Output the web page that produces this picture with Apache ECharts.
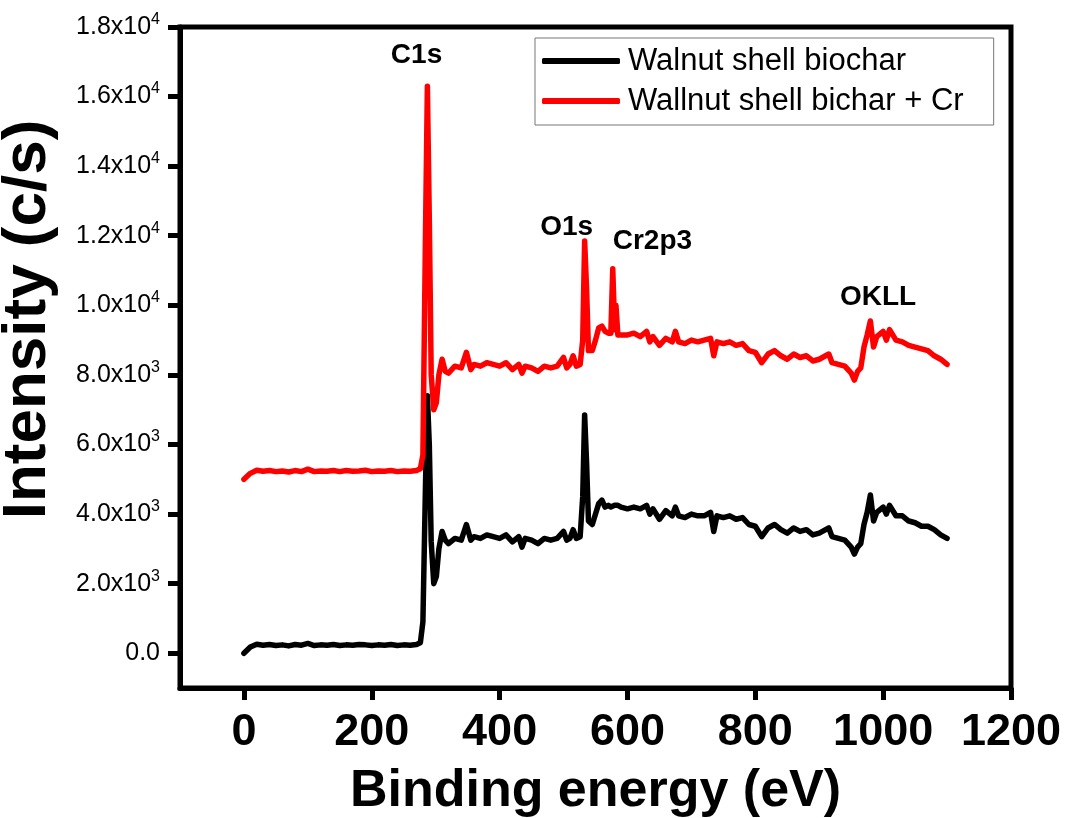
<!DOCTYPE html>
<html>
<head>
<meta charset="utf-8">
<title>XPS survey</title>
<script src="https://cdn.jsdelivr.net/npm/echarts@6/dist/echarts.min.js"></script>
<style>
  html, body { margin: 0; padding: 0; background: #fff; }
  #chart { width: 1070px; height: 818px; }
</style>
</head>
<body>
<div id="chart"></div>
<script>
// binding energy (eV), shared by both spectra
var energy = [0, 10, 20, 30, 40, 50, 60, 70, 80, 90, 100, 110, 120, 130, 140, 150, 160, 170, 180, 190,
  200, 210, 220, 230, 240, 250, 260, 270, 276, 280, 284, 287, 290, 293, 297, 301, 305, 310, 315, 320,
  330, 340, 348, 355, 360, 370, 380, 390, 400, 410, 420, 430, 435, 440, 450, 460, 470, 480, 490, 500,
  505, 510, 515, 520, 526, 530, 533, 536, 539, 545, 550, 555, 560, 565, 570, 574, 577, 580, 582, 585,
  590, 600, 610, 620, 630, 635, 640, 650, 660, 670, 675, 680, 690, 700, 710, 720, 730, 735, 740, 750,
  760, 770, 780, 790, 800, 810, 820, 830, 840, 850, 860, 870, 880, 890, 900, 910, 915, 920, 930, 940,
  945, 950, 955, 960, 965, 970, 975, 980, 985, 990, 1000, 1005, 1010, 1020, 1030, 1040, 1050, 1060, 1070, 1080,
  1090, 1100];

var biochar = [0, 180, 260, 230, 250, 220, 240, 210, 250, 230, 280, 220, 240, 230, 250, 220, 240, 230, 250, 240,
  220, 240, 230, 250, 220, 240, 230, 250, 300, 900, 4800, 7400, 6000, 3200, 2000, 2200, 3000, 3500, 3250, 3150,
  3300, 3250, 3700, 3250, 3350, 3300, 3400, 3350, 3300, 3400, 3200, 3350, 3050, 3300, 3250, 3150, 3300, 3250, 3300, 3500,
  3250, 3300, 3550, 3300, 3350, 4500, 6850, 5500, 3800, 3700, 4000, 4300, 4400, 4200, 4250, 4200, 4150, 4250, 4200, 4250,
  4200, 4150, 4200, 4150, 4250, 4000, 4150, 3850, 4100, 3950, 4200, 3950, 3900, 4000, 3950, 3950, 4050, 3500, 3950, 3900,
  3950, 3850, 3900, 3700, 3650, 3350, 3600, 3700, 3550, 3450, 3600, 3500, 3550, 3400, 3450, 3550, 3600, 3350, 3300, 3250,
  3150, 3050, 2850, 3050, 3150, 3700, 4050, 4550, 3800, 4050, 4200, 4000, 4250, 3950, 3950, 3800, 3750, 3650, 3650, 3550,
  3400, 3300];

var biocharCr = [5000, 5170, 5260, 5230, 5250, 5220, 5240, 5210, 5250, 5220, 5290, 5220, 5240, 5230, 5250, 5220, 5250, 5230, 5240, 5260,
  5220, 5240, 5230, 5250, 5220, 5240, 5230, 5250, 5300, 5700, 12000, 16300, 12500, 8000, 7000, 7200, 8000, 8450, 8100, 8050,
  8250, 8200, 8650, 8150, 8300, 8250, 8350, 8300, 8250, 8350, 8150, 8300, 8050, 8250, 8200, 8100, 8250, 8200, 8250, 8500,
  8200, 8300, 8550, 8250, 8300, 9000, 11850, 10500, 8700, 8700, 9000, 9350, 9400, 9250, 9200, 9200, 11050, 9300, 10000, 9150,
  9150, 9150, 9200, 9100, 9250, 8950, 9100, 8850, 9050, 8950, 9250, 8950, 8900, 9000, 8950, 9000, 9050, 8550, 8950, 8900,
  8950, 8850, 8900, 8700, 8650, 8350, 8600, 8700, 8550, 8450, 8600, 8500, 8550, 8400, 8450, 8550, 8600, 8350, 8300, 8250,
  8150, 8050, 7850, 8100, 8200, 8800, 9150, 9550, 8800, 9100, 9250, 9000, 9300, 9000, 8950, 8850, 8800, 8750, 8700, 8550,
  8450, 8300];

var seriesNames = ['Walnut shell biochar', 'Wallnut shell bichar + Cr'];

// peak labels
var peakNames = ['C1s', 'O1s', 'Cr2p3', 'OKLL'];
var peakX = [270, 505, 639, 992];
var peakY = [17200, 12230, 11830, 10220];

var xTicks = [0, 200, 400, 600, 800, 1000, 1200];
var yTicks = [0, 2000, 4000, 6000, 8000, 10000, 12000, 14000, 16000, 18000];

function pairs(xs, ys) {
  return xs.map(function (x, i) { return [x, ys[i]]; });
}

function sciLabel(v) {
  if (v === 0) return '{m|0.0}';
  var e = Math.floor(Math.log10(v));
  var m = (v / Math.pow(10, e)).toFixed(1);
  return '{m|' + m + 'x10}{e|' + e + '}';
}

var chart = echarts.init(document.getElementById('chart'));
var font = 'Liberation Sans, Arial, sans-serif';

chart.setOption({
  animation: false,
  backgroundColor: '#fff',
  textStyle: { fontFamily: font },
  grid: {
    left: 180, right: 59, top: 27, bottom: 130,
    show: true, borderColor: '#000', borderWidth: 5,
    outerBoundsMode: 'none'
  },
  legend: {
    data: seriesNames,
    orient: 'vertical',
    left: 535, top: 38,
    icon: 'roundRect',
    itemWidth: 78, itemHeight: 6,
    itemGap: 6,
    padding: [6, 30, 7, 7],
    borderColor: '#777', borderWidth: 1,
    backgroundColor: '#fff',
    textStyle: { fontSize: 31, color: '#000', lineHeight: 34, fontFamily: font, padding: [0, 0, 0, 3] }
  },
  xAxis: {
    type: 'value',
    min: -100, max: 1200,
    name: 'Binding energy (eV)',
    nameLocation: 'middle',
    nameGap: 78,
    nameTextStyle: { fontSize: 52, fontWeight: 'bold', color: '#000', fontFamily: font },
    axisLine: { show: true, onZero: false, lineStyle: { color: '#000', width: 5 } },
    axisTick: { show: true, length: 12, lineStyle: { color: '#000', width: 5 }, customValues: xTicks },
    axisLabel: {
      fontSize: 45, fontWeight: 'bold', color: '#000', margin: 22, customValues: xTicks,
      formatter: function (v) { return String(v); }
    },
    splitLine: { show: false }
  },
  yAxis: {
    type: 'value',
    min: -1000, max: 18000,
    name: 'Intensity (c/s)',
    nameLocation: 'middle',
    nameGap: 121,
    nameTextStyle: { fontSize: 62, fontWeight: 'bold', color: '#000', fontFamily: font, padding: [0, 0, 0, 76] },
    axisLine: { show: true, onZero: false, lineStyle: { color: '#000', width: 5 } },
    axisTick: { show: true, length: 12, lineStyle: { color: '#000', width: 5 }, customValues: yTicks },
    axisLabel: {
      margin: 20,
      customValues: yTicks,
      formatter: sciLabel,
      rich: {
        m: { fontSize: 25, color: '#000', fontFamily: font, lineHeight: 28 },
        e: { fontSize: 16, color: '#000', fontFamily: font, lineHeight: 28, padding: [0, 0, 15, 0] }
      }
    },
    splitLine: { show: false }
  },
  series: [
    {
      name: seriesNames[0],
      type: 'line',
      data: pairs(energy, biochar),
      showSymbol: false,
      color: '#000',
      lineStyle: { color: '#000', width: 5.5, join: 'round', cap: 'round' },
      z: 2
    },
    {
      name: seriesNames[1],
      type: 'line',
      data: pairs(energy, biocharCr),
      showSymbol: false,
      color: '#ff0000',
      lineStyle: { color: '#ff0000', width: 5.5, join: 'round', cap: 'round' },
      z: 3
    },
    {
      name: 'peaks',
      type: 'scatter',
      symbolSize: 0,
      itemStyle: { opacity: 1 },
      data: peakNames.map(function (n, i) { return { value: [peakX[i], peakY[i]], name: n }; }),
      label: {
        show: true, position: 'top', distance: 0, offset: [0, 14],
        formatter: function (p) { return p.name; },
        fontSize: 28, fontWeight: 'bold', color: '#000', opacity: 1, fontFamily: font,
        textBorderWidth: 0
      },
      emphasis: { disabled: true },
      z: 4
    }
  ]
});
</script>
</body>
</html>
